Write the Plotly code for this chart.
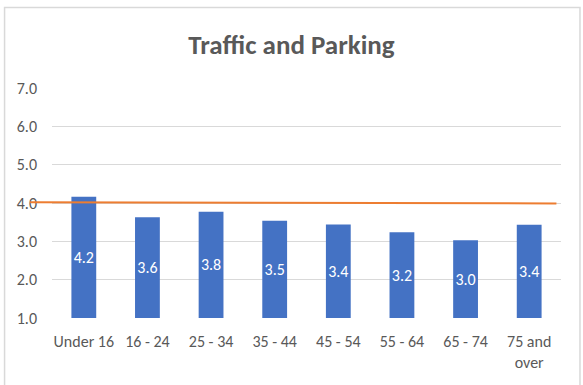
import plotly.graph_objects as go

categories = ["Under 16", "16 - 24", "25 - 34", "35 - 44", "45 - 54", "55 - 64", "65 - 74", "75 and<br>over"]
scores = [4.16, 3.63, 3.77, 3.54, 3.44, 3.24, 3.03, 3.43]
benchmark = [4.02, 3.99]  # start / end of the orange reference line
y_ticks = [1.0, 2.0, 3.0, 4.0, 5.0, 6.0, 7.0]
y_tick_labels = ["1.0", "2.0", "3.0", "4.0", "5.0", "6.0", "7.0"]
axis_floor = y_ticks[0]

FONT = "Carlito, Lato, 'Liberation Sans', sans-serif"
GREY = "#595959"

fig = go.Figure()
fig.add_trace(go.Bar(
    x=categories,
    y=[s - axis_floor for s in scores],
    base=axis_floor,
    text=[f"{s:.1f}" for s in scores],
    texttemplate="%{text}",
    textposition="inside",
    insidetextanchor="middle",
    textangle=0,
    marker=dict(color="#4472C4", line=dict(width=0)),
    textfont=dict(color="white", size=16, family=FONT),
    hoverinfo="skip",
))

fig.update_layout(
    width=583, height=385,
    margin=dict(l=52, r=21.5, t=88, b=67),
    paper_bgcolor="white", plot_bgcolor="white",
    bargap=0.61,
    showlegend=False,
    uniformtext=dict(mode="show", minsize=16),
    title=dict(text="<b>Traffic and Parking</b>", x=0.5, xanchor="center",
               y=1 - 45 / 385, yanchor="middle", yref="container",
               font=dict(size=27, color=GREY, family=FONT)),
    xaxis=dict(showgrid=False, showline=False, zeroline=False, ticks="",
               ticklabelstandoff=12,
               tickfont=dict(size=16, color=GREY, family=FONT)),
    yaxis=dict(range=[1, 7], tickvals=y_ticks, ticktext=y_tick_labels,
               showgrid=True, gridcolor="#D9D9D9", gridwidth=1,
               zeroline=False, showline=False, ticks="",
               ticklabelstandoff=14,
               tickfont=dict(size=16, color=GREY, family=FONT)),
    shapes=[
        dict(type="line", xref="paper", yref="y", x0=-0.043, x1=0.991,
             y0=benchmark[0], y1=benchmark[1],
             line=dict(color="#ED7D31", width=2), layer="above"),
        dict(type="rect", xref="paper", yref="paper", x0=-0.0932, x1=1.0373,
             y0=-0.45, y1=1.35, line=dict(color="#D9D9D9", width=1.5),
             layer="below"),
    ],
)

fig.write_html("out.html",
               config={"displayModeBar": False},
               post_script="document.body.style.margin='0';document.body.style.overflow='hidden';")
